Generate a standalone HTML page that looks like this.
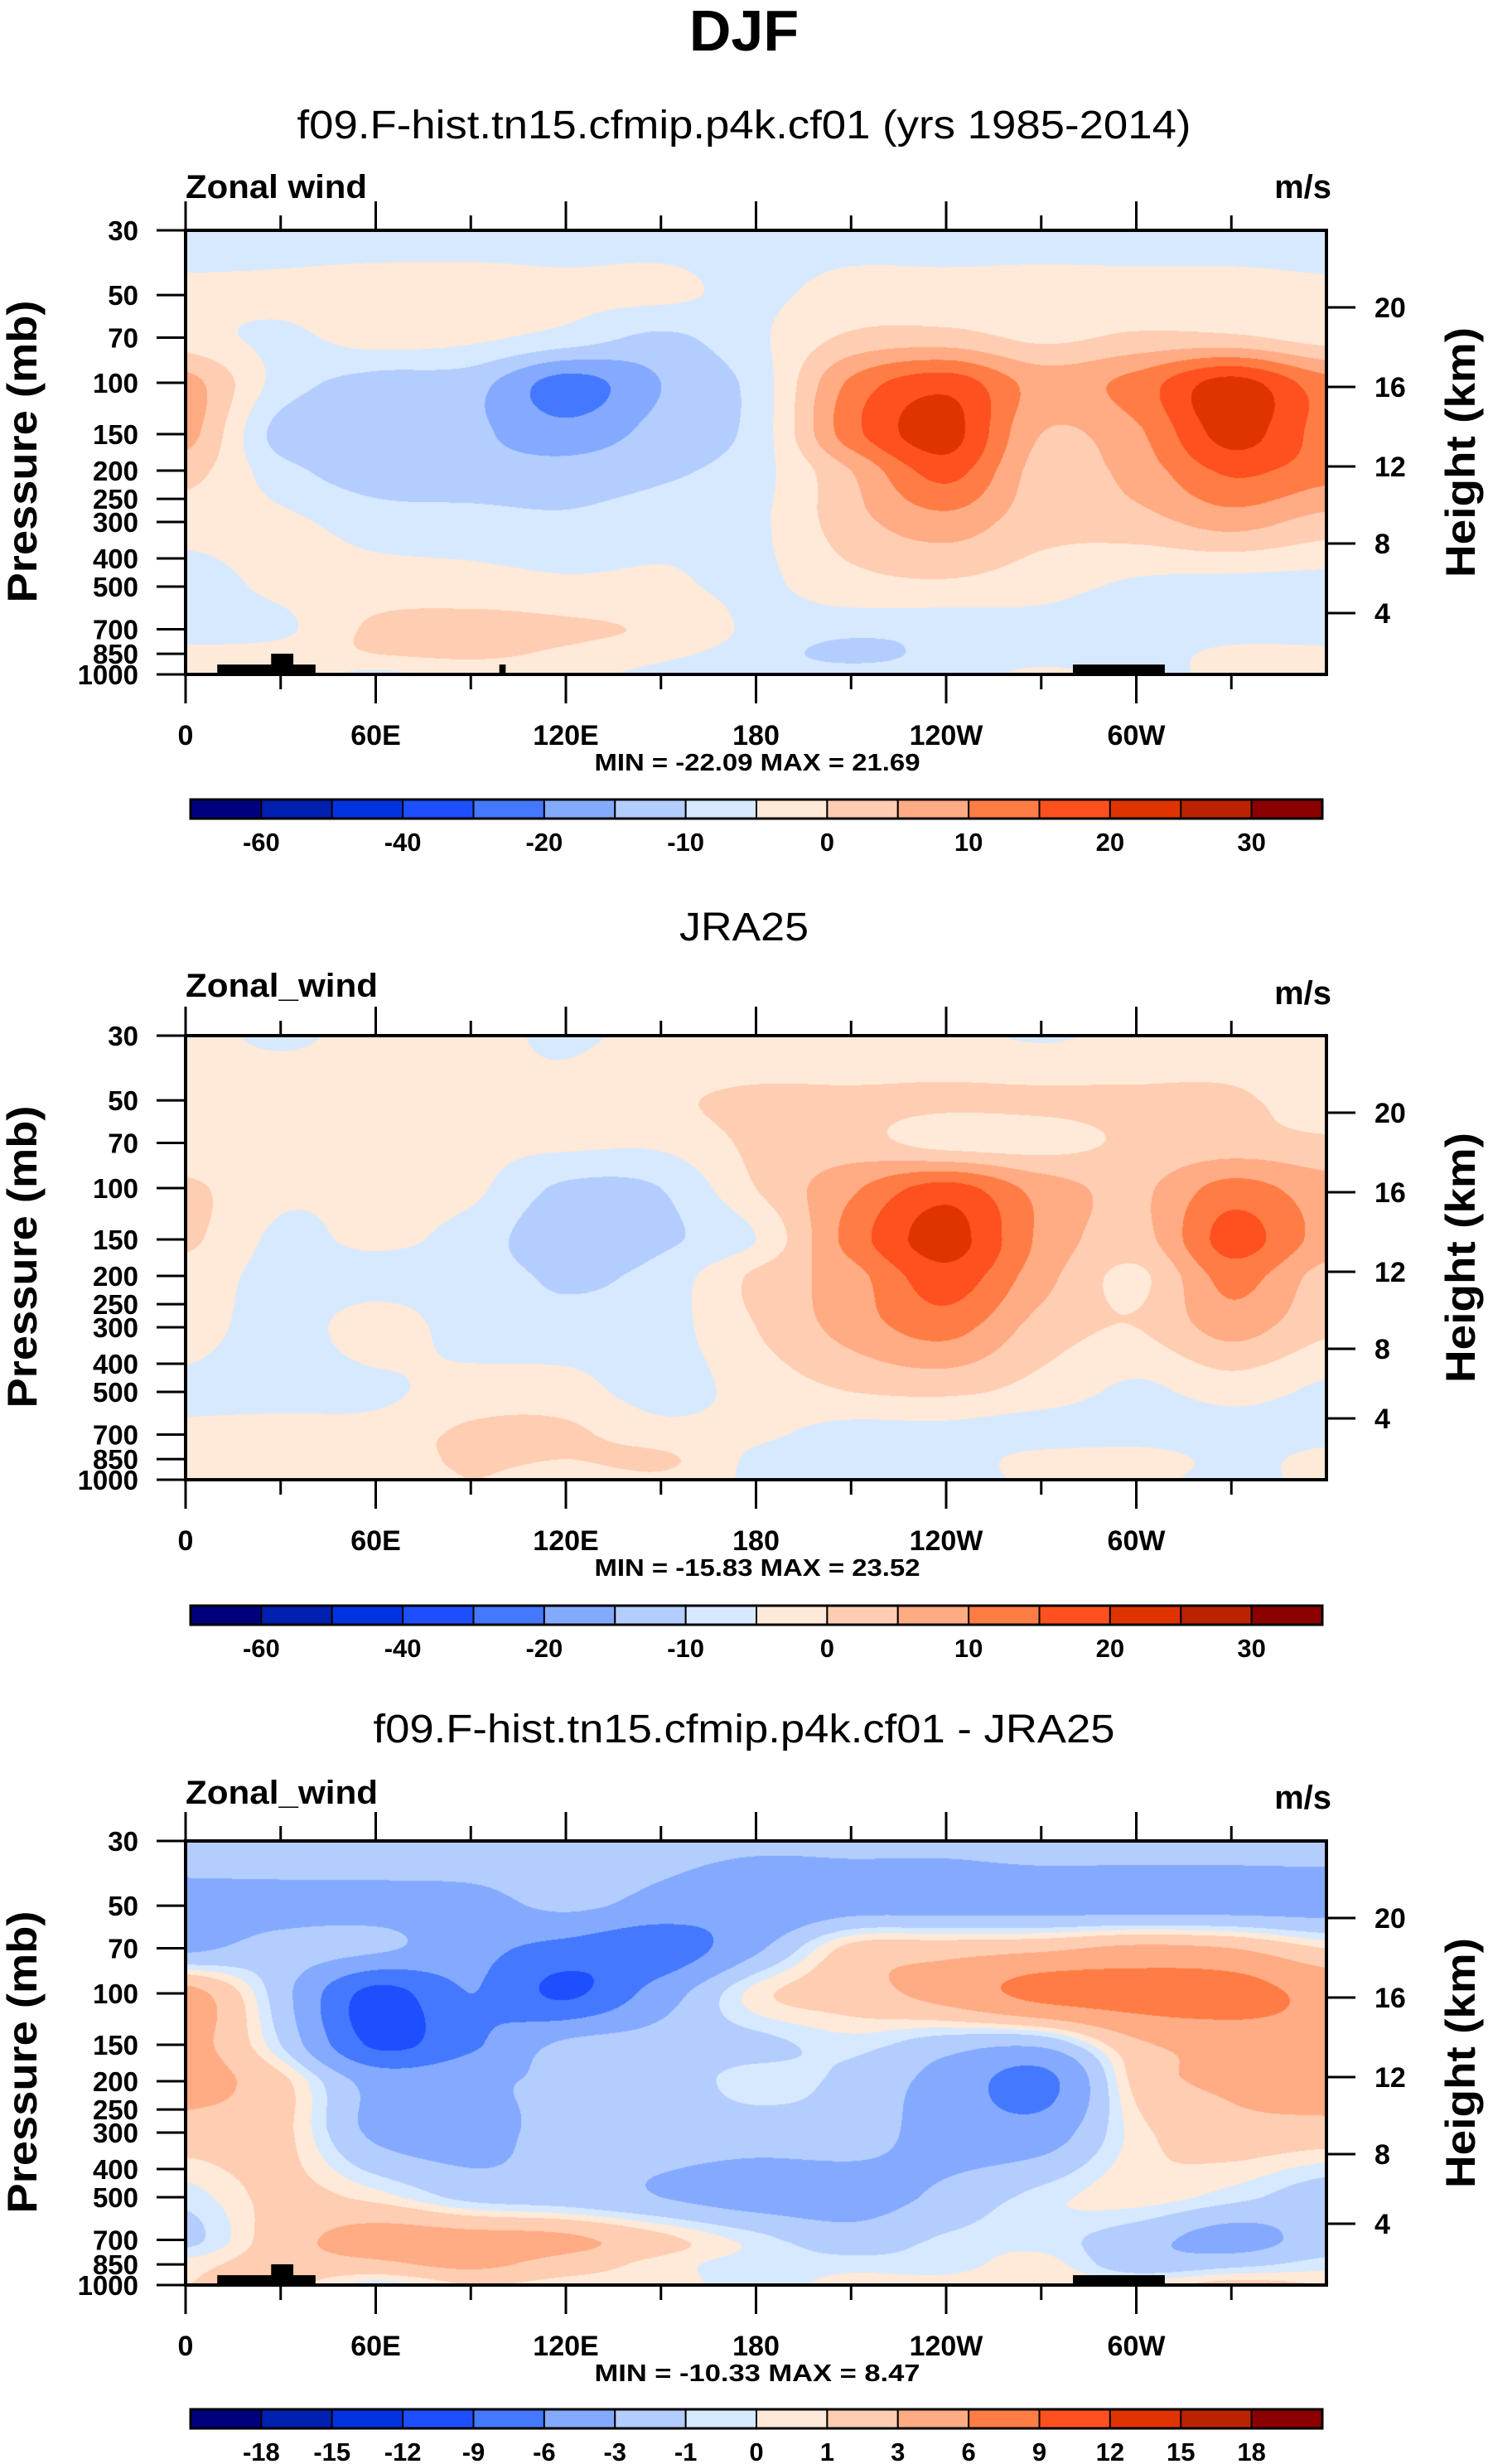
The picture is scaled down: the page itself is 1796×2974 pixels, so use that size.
<!DOCTYPE html>
<html><head><meta charset="utf-8">
<style>
html,body{margin:0;padding:0;background:#fff;}
#wrap{position:relative;width:1796px;height:2974px;overflow:hidden;background:#fff;}
canvas{position:absolute;}
svg{position:absolute;left:0;top:0;}
text{font-family:"Liberation Sans",sans-serif;fill:#000;}
</style></head>
<body>
<div id="wrap">
<canvas id="c0"></canvas>
<canvas id="c1"></canvas>
<canvas id="c2"></canvas>
<svg id="ov" width="1796" height="2974">
<text x="898" y="61" text-anchor="middle" font-size="70" font-weight="bold">DJF</text>
<text x="898" y="167" text-anchor="middle" font-size="48" textLength="1079" lengthAdjust="spacingAndGlyphs">f09.F-hist.tn15.cfmip.p4k.cf01 (yrs 1985-2014)</text>
<text x="898" y="1135" text-anchor="middle" font-size="48" textLength="156" lengthAdjust="spacingAndGlyphs">JRA25</text>
<text x="898" y="2103" text-anchor="middle" font-size="48" textLength="895" lengthAdjust="spacingAndGlyphs">f09.F-hist.tn15.cfmip.p4k.cf01 - JRA25</text>
<text x="224" y="239" font-size="40" font-weight="bold" textLength="219" lengthAdjust="spacingAndGlyphs">Zonal wind</text>
<text x="1607" y="239" text-anchor="end" font-size="40" font-weight="bold">m/s</text>
<text x="224" y="1203" font-size="40" font-weight="bold" textLength="232" lengthAdjust="spacingAndGlyphs">Zonal_wind</text>
<text x="1607" y="1212" text-anchor="end" font-size="40" font-weight="bold">m/s</text>
<text x="224" y="2177" font-size="40" font-weight="bold" textLength="232" lengthAdjust="spacingAndGlyphs">Zonal_wind</text>
<text x="1607" y="2183" text-anchor="end" font-size="40" font-weight="bold">m/s</text>
<text x="914" y="930" text-anchor="middle" font-size="29" font-weight="bold" textLength="393" lengthAdjust="spacingAndGlyphs">MIN = -22.09  MAX =  21.69</text>
<text x="914" y="1902" text-anchor="middle" font-size="29" font-weight="bold" textLength="393" lengthAdjust="spacingAndGlyphs">MIN = -15.83  MAX =  23.52</text>
<text x="914" y="2874" text-anchor="middle" font-size="29" font-weight="bold" textLength="393" lengthAdjust="spacingAndGlyphs">MIN = -10.33  MAX =  8.47</text>
</svg>
</div>
<script>
// ---- data ----
const lons = [0,30,60,90,120,150,180,210,240,270,300,330,360];
const plevs = [30,50,70,100,150,200,300,500,700,850,1000];
const modelU = [
 [-2,-2,-2,-2,-2,-2,-2,-2,-2,-2,-2,-2,-2],
 [1,1,2,2,1,1,-1,2,2,2,2,2,1],
 [2,-1,2,1,-2,-6,-1,6,7,4,6,6,3],
 [12,-2,-7,-8,-17,-10,-3,16,23,13,17,27,17],
 [12,-7,-8,-9,-13,-8,-3,18,27,10,14,27,18],
 [7,-3,-8,-8,-8,-6,-2,10,22,8,12,21,17],
 [2,1,-2,-3,-4,-2,-1,8,13,7,8,12,8],
 [-2,1,2,2,1,1,-1,3,4,2,-1,-2,-2],
 [-2,-1,6,7,6,4,-1,-3,-3,-2,-3,-2,-2],
 [1,2,5,6,4,1,-2,-7,-3,-2,-2,1,1],
 [1,2,-1,2,1,-1,-2,-2,-2,1,-1,1,2]
];
const jraU = [
 [1,-0.5,1,1,-0.5,1,1,1,1,-0.5,1,1,1],
 [1,2,1,1,1,4,6,6,6,6,6,6,2],
 [1,1,1,1,1,1,6,7,3,3,6,7,6],
 [6,1,1,1,-6,-5,5,14,22,13,9,17,12],
 [6,-1,1,-2,-9,-6,0,17,27,14,8,22,13],
 [3,-2,-2,-2,-6,-3,6,13,23,12,4,17,8],
 [2,-2,2,-2,-3,-2,5,12,17,8,5,12,6],
 [-1,-2,-1,2,2,-2,2,5,6,3,-1,2,-1],
 [1,2,2,6,6,2,1,-2,-2,-3,-2,-2,-1],
 [2,2,2,6,5,6,-1,-3,-3,2,2,-1,1],
 [4,2,1,5,2,4,-1,-2,-2,1,1,-1,1]
];
const diffU = [
 [-1.5,-1,-1,-1,-1.5,-2,-2.5,-2.5,-2.5,-2,-2,-2,-2],
 [-4,-4,-4,-4,-2.5,-4,-5,-4,-4,-4,-4,-4,-4],
 [-3.5,-2,-2.5,-5,-7,-8,-3.5,1.5,2,2.5,3.5,3,1],
 [4,-2,-10,-6,-9.5,-4.5,0.5,2,4,7,7.5,7.5,5],
 [4,-1,-9.5,-6.5,-2.5,-2,-1.5,-0.5,-2,-2.5,2.5,4,5],
 [4,1.5,-4,-3.5,-2.5,-2,-0.5,-1.5,-4,-7,1.5,3.5,4.5],
 [2,1.5,-3.5,-4,-2,-2,-2,-2,-4,-4.5,0.5,2,2],
 [-0.5,1.5,0.5,-1.5,-2,-3,-4,-4,-2.5,-0.5,0.5,-0.5,-2],
 [-1.5,2,4,4,3.5,1.5,-0.5,-2,-0.8,-0.5,-2,-4,-2],
 [0.5,2,2.5,3.5,2,0.5,-0.5,-0.5,-0.5,0.5,-2,-1.5,-0.5],
 [1,1.5,-0.5,1,0.5,0.5,-0.5,0.5,0.5,1,0.5,1.5,1]
];
const levelsFull = [-60,-50,-40,-30,-20,-15,-10,-5,0,5,10,15,20,25,30];
const levelsDiff = [-18,-15,-12,-9,-6,-3,-1,0,1,3,6,9,12,15,18];
const cbLabelsFull = ["-60","","-40","","-20","","-10","","0","","10","","20","","30"];
const cbLabelsDiff = ["-18","-15","-12","-9","-6","-3","-1","0","1","3","6","9","12","15","18"];
const palette = ["#00007f","#0020b0","#0033e0","#1e4fff","#4479ff","#84aaff","#b4cdff","#d7e9ff","#ffe9d8","#ffcdb2","#ffab84","#ff7d44","#ff5020","#e03400","#bb2200","#8b0000"];
const pTicks = [30,50,70,100,150,200,250,300,400,500,700,850,1000];
const hTicks = [20,16,12,8,4];
const hTickOffsets = [93,189,285,378,462];
const xTickLons = [0,60,120,180,240,300];
const xTickLabels = ["0","60E","120E","180","120W","60W"];
const topoLon0 = [10,27,99,280];
const topoLon1 = [41,34,101,309];
const topoP = [925,849,925,925];

// ---- layout ----
const PL=224, PR=1601, PH=536;
const tops=[278,1250,2222];
const cbTops=[965,1938,2908];
const CBL=230, CBR=1596, CBH=23;
const LP0=Math.log10(30), LP1=Math.log10(1000);
function xOfLon(l){return PL+(PR-PL)*l/360;}
function yOfP(p,top){return top+PH*(Math.log10(p)-LP0)/(LP1-LP0);}
function cr(a,b,c,d,t){return 0.5*(2*b+(-a+c)*t+(2*a-5*b+4*c-d)*t*t+(-a+3*b-3*c+d)*t*t*t);}
const lpl = plevs.map(p=>Math.log10(p));
function sample(g,lon,lp){
  let fi=lon/30; let i=Math.min(Math.floor(fi),11); let ti=fi-i;
  let j=0; while(j<lpl.length-2 && lp>lpl[j+1]) j++;
  let tj=(lp-lpl[j])/(lpl[j+1]-lpl[j]); tj=Math.max(0,Math.min(1,tj));
  const rows=[];
  for(let dj=-1;dj<=2;dj++){
    const jj=Math.max(0,Math.min(lpl.length-1,j+dj));
    const r=g[jj];
    const v=(k)=>r[Math.max(0,Math.min(12,k))];
    rows.push(cr(v(i-1),v(i),v(i+1),v(i+2),ti));
  }
  return cr(rows[0],rows[1],rows[2],rows[3],tj);
}
function hex(c){return [parseInt(c.substr(1,2),16),parseInt(c.substr(3,2),16),parseInt(c.substr(5,2),16)];}
const palRGB=palette.map(hex);
function drawField(id,g,levs,top,shift){
  const cv=document.getElementById(id);
  const w=PR-PL, h=PH;
  cv.width=w; cv.height=h; cv.style.left=PL+'px'; cv.style.top=top+'px';
  const ctx=cv.getContext('2d'); const im=ctx.createImageData(w,h); const d=im.data;
  for(let y=0;y<h;y++){
    const lp=LP0+(LP1-LP0)*(y+0.5)/h;
    for(let x=0;x<w;x++){
      const v=sample(g,360*(x+0.5)/w,lp);
      let k=0; while(k<levs.length && v>levs[k]) k++;
      const c=palRGB[Math.max(0,k-shift)]; const o=(y*w+x)*4;
      d[o]=c[0];d[o+1]=c[1];d[o+2]=c[2];d[o+3]=255;
    }
  }
  ctx.putImageData(im,0,0);
}
drawField('c0',modelU,levelsFull,tops[0],1);
drawField('c1',jraU,levelsFull,tops[1],1);
drawField('c2',diffU,levelsDiff,tops[2],0);

// ---- overlay ----
const NS='http://www.w3.org/2000/svg';
const ov=document.getElementById('ov');
function mk(tag,attrs){const e=document.createElementNS(NS,tag);for(const k in attrs)e.setAttribute(k,attrs[k]);ov.appendChild(e);return e;}
const panelNames=['model','jra25','difference'];
for(let pi=0;pi<3;pi++){
  const top=tops[pi], bot=top+PH, nm=panelNames[pi];
  if(pi!==1){
    for(let t=0;t<topoLon0.length;t++){
      if(pi===2 && t===2) continue;
      const x0=xOfLon(topoLon0[t]), x1=xOfLon(topoLon1[t]), y0=yOfP(topoP[t],top);
      const r=mk('rect',{x:x0,y:y0,width:x1-x0,height:bot-y0,fill:'#000'});
      
      
    }
  }
  const fr=mk('rect',{x:PL,y:top,width:PR-PL,height:PH,fill:'none',stroke:'#000','stroke-width':4});
  
  
  for(let l=0;l<=330;l+=30){
    const x=xOfLon(l), major=(l%60===0), len=major?35:18;
    const tb=mk('line',{x1:x,y1:bot,x2:x,y2:bot+len,stroke:'#000','stroke-width':3});
    
    
    const tt=mk('line',{x1:x,y1:top,x2:x,y2:top-len,stroke:'#000','stroke-width':3});
    
    
  }
  for(let k=0;k<xTickLons.length;k++){
    const t=mk('text',{x:xOfLon(xTickLons[k]),y:bot+85,'text-anchor':'middle','font-size':34,'font-weight':'bold'});
    t.textContent=xTickLabels[k];
    
    
  }
  for(const p of pTicks){
    const y=yOfP(p,top);
    const l=mk('line',{x1:PL-35,y1:y,x2:PL,y2:y,stroke:'#000','stroke-width':3});
    
    
    const t=mk('text',{x:167,y:y+12,'text-anchor':'end','font-size':33,'font-weight':'bold'});
    t.textContent=String(p);
    
    
  }
  for(let k=0;k<hTicks.length;k++){
    const y=top+hTickOffsets[k];
    const l=mk('line',{x1:PR,y1:y,x2:PR+35,y2:y,stroke:'#000','stroke-width':3});
    
    
    const t=mk('text',{x:1659,y:y+12,'font-size':34,'font-weight':'bold'});
    t.textContent=String(hTicks[k]);
    
    
  }
  const yl=mk('text',{x:0,y:0,'text-anchor':'middle','font-size':50,'font-weight':'bold',textLength:365,lengthAdjust:'spacingAndGlyphs',transform:'translate(44,'+(top+267)+') rotate(-90)'});
  yl.textContent='Pressure (mb)';
  
  
  const yr=mk('text',{x:0,y:0,'text-anchor':'middle','font-size':50,'font-weight':'bold',textLength:302,lengthAdjust:'spacingAndGlyphs',transform:'translate(1780,'+(top+268)+') rotate(-90)'});
  yr.textContent='Height (km)';
  
  
  // colorbar
  const cbt=cbTops[pi], bw=(CBR-CBL)/16;
  for(let k=0;k<16;k++){
    const b=mk('rect',{x:CBL+k*bw,y:cbt,width:bw,height:CBH,fill:palette[k],stroke:'#000','stroke-width':2});
    
    
  }
  const cbo=mk('rect',{x:CBL,y:cbt,width:CBR-CBL,height:CBH,fill:'none',stroke:'#000','stroke-width':3});
  
  
  const labs=(pi===2)?cbLabelsDiff:cbLabelsFull;
  for(let k=0;k<15;k++){
    if(!labs[k]) continue;
    const t=mk('text',{x:CBL+(k+1)*bw,y:cbt+CBH+39,'text-anchor':'middle','font-size':31,'font-weight':'bold'});
    t.textContent=labs[k];
    
    
  }
}
</script>
</body></html>
